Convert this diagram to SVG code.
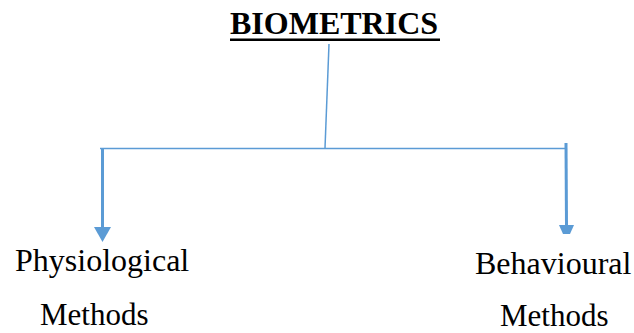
<svg xmlns="http://www.w3.org/2000/svg" width="634" height="333" viewBox="0 0 634 333">
<style>
.t{font-family:'Liberation Serif',serif;fill:#000}
.ln{stroke:#5B9BD5;fill:none;stroke-width:1.5}
.sh{stroke:#5B9BD5;fill:none;stroke-width:3}
.hd{fill:#5B9BD5}
</style>
<rect width="634" height="333" fill="#fff"/>
<g id="title">
<text class="t" x="230" y="34" font-size="32" font-weight="bold">BIOMETRICS</text>
<rect x="230" y="38.5" width="210" height="2.5" fill="#000"/>
</g>
<g id="connectors">
<line class="ln" x1="329" y1="44" x2="325" y2="148"/>
<line class="ln" x1="100" y1="148.5" x2="566" y2="148.5"/>
<line class="sh" x1="102.5" y1="148" x2="102.5" y2="228"/>
<polygon class="hd" points="94,227 111,227 102.5,242"/>
<line class="sh" x1="566" y1="143" x2="566.5" y2="226"/>
<polygon class="hd" points="559,225 574,225 570,234 563,234"/>
</g>
<g id="physiological">
<text class="t" x="15" y="271" font-size="32">Physiological</text>
<text class="t" x="40" y="324.5" font-size="31">Methods</text>
</g>
<g id="behavioural">
<text class="t" x="475" y="274" font-size="32">Behavioural</text>
<text class="t" x="500" y="326" font-size="31">Methods</text>
</g>
</svg>
